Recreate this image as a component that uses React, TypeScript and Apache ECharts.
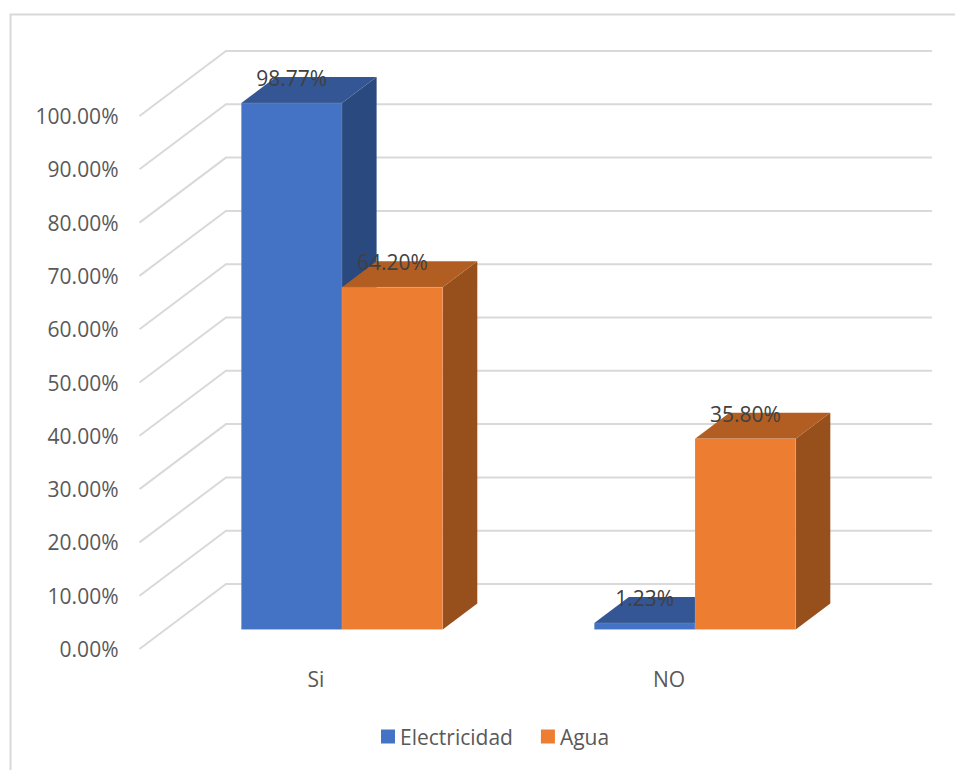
import React, { useEffect, useRef } from "react";
import * as echarts from "echarts";

const categories = ["Si", "NO"];
const electricidad = [98.77, 1.23];
const agua = [64.2, 35.8];
const ticks = [0, 10, 20, 30, 40, 50, 60, 70, 80, 90, 100];

const FONT = "'Open Sans', 'Noto Sans', sans-serif";
const FONT_SIZE = 21;
const WALL = "#d9d9d9";

// Oblique projection used for the pseudo-3D look
const WALL_DX = 86.5;
const WALL_DY = -65;
const BAR_OFFSET_X = 26;
const BAR_OFFSET_Y = -19.5;
const BAR_WIDTH = 100.7;
const DEPTH_DX = 34.6;
const DEPTH_DY = -26;

const wallItem = (params: any, api: any) => {
  const left = params.coordSys.x;
  const right = left + params.coordSys.width;
  const y = api.coord([0, api.value(1)])[1];
  return {
    type: "polyline",
    silent: true,
    shape: {
      points: [
        [left, y],
        [left + WALL_DX, y + WALL_DY],
        [right + WALL_DX, y + WALL_DY],
      ],
    },
    style: { fill: "none", stroke: WALL, lineWidth: 2 },
  };
};

const barRenderer =
  (side: "left" | "right", front: string, top: string, flank: string) =>
  (_params: any, api: any) => {
    const value = api.value(1);
    const base = api.coord([api.value(0), 0]);
    const head = api.coord([api.value(0), value]);
    const cx = base[0] + BAR_OFFSET_X;
    const x0 = side === "left" ? cx - BAR_WIDTH : cx;
    const x1 = x0 + BAR_WIDTH;
    const yB = base[1] + BAR_OFFSET_Y;
    const yT = head[1] + BAR_OFFSET_Y;
    const edge = { stroke: "rgba(255,255,255,0.12)", lineWidth: 1 };
    return {
      type: "group",
      children: [
        {
          type: "polygon",
          shape: {
            points: [
              [x1, yB],
              [x1 + DEPTH_DX, yB + DEPTH_DY],
              [x1 + DEPTH_DX, yT + DEPTH_DY],
              [x1, yT],
            ],
          },
          style: { fill: flank },
        },
        {
          type: "polygon",
          shape: {
            points: [
              [x0, yT],
              [x0 + DEPTH_DX, yT + DEPTH_DY],
              [x1 + DEPTH_DX, yT + DEPTH_DY],
              [x1, yT],
            ],
          },
          style: { fill: top },
        },
        {
          type: "rect",
          shape: { x: x0, y: yT, width: BAR_WIDTH, height: yB - yT },
          style: { fill: front, ...edge },
        },
        {
          type: "text",
          style: {
            text: value.toFixed(2) + "%",
            x: (x0 + x1) / 2,
            y: yT + DEPTH_DY + 1,
            align: "center",
            verticalAlign: "middle",
            fill: "#404040",
            font: `${FONT_SIZE}px ${FONT}`,
          },
        },
      ],
    };
  };

const toPoints = (values: number[]) => values.map((v, i) => [i, v]);

export default function App() {
  const ref = useRef<HTMLDivElement>(null);

  useEffect(() => {
    if (!ref.current) return;
    const chart = echarts.init(ref.current, null, { renderer: "svg" });
    chart.setOption({
      animation: false,
      backgroundColor: "#ffffff",
      textStyle: { fontFamily: FONT },
      grid: { left: 139.5, width: 706, top: 116, height: 533, containLabel: false },
      graphic: [
        {
          type: "polyline",
          silent: true,
          shape: {
            points: [
              [10.5, 770],
              [10.5, 14.5],
              [955, 14.5],
            ],
          },
          style: { fill: "none", stroke: WALL, lineWidth: 2 },
        },
      ],
      legend: {
        left: 381,
        top: 726,
        itemWidth: 14,
        itemHeight: 14,
        itemGap: 28,
        itemStyle: { borderWidth: 0 },
        icon: "rect",
        data: ["Electricidad", "Agua"],
        textStyle: { color: "#595959", fontSize: FONT_SIZE, fontFamily: FONT },
        padding: 0,
      },
      xAxis: {
        type: "category",
        data: categories,
        axisLine: { show: false },
        axisTick: { show: false },
        splitLine: { show: false },
        axisLabel: { color: "#595959", fontSize: FONT_SIZE, fontFamily: FONT, margin: 19 },
      },
      yAxis: {
        type: "value",
        min: 0,
        max: 100,
        interval: 10,
        axisLine: { show: false },
        axisTick: { show: false },
        splitLine: { show: false },
        axisLabel: {
          color: "#595959",
          fontSize: FONT_SIZE,
          fontFamily: FONT,
          margin: 21,
          formatter: (v: number) => v.toFixed(2) + "%",
        },
      },
      series: [
        {
          type: "custom",
          name: "walls",
          silent: true,
          z: 1,
          renderItem: wallItem,
          data: ticks.map((t) => [0, t]),
          encode: { x: 0, y: 1 },
        },
        {
          type: "custom",
          name: "Electricidad",
          z: 2,
          itemStyle: { color: "#4472C4" },
          renderItem: barRenderer("left", "#4472C4", "#345694", "#2A4A7F"),
          data: toPoints(electricidad),
          encode: { x: 0, y: 1 },
        },
        {
          type: "custom",
          name: "Agua",
          z: 3,
          itemStyle: { color: "#ED7D31" },
          renderItem: barRenderer("right", "#ED7D31", "#B25E22", "#974F1C"),
          data: toPoints(agua),
          encode: { x: 0, y: 1 },
        },
      ],
    });
    return () => chart.dispose();
  }, []);

  return <div ref={ref} style={{ position: "absolute", left: 0, top: 0, width: 955, height: 770 }} />;
}
